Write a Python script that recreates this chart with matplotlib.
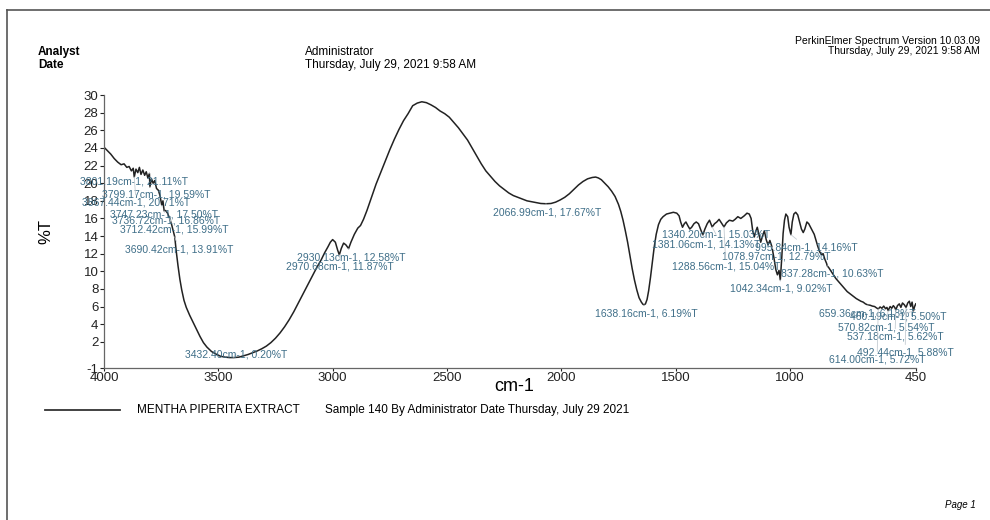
import matplotlib
matplotlib.use("Agg")
import matplotlib.pyplot as plt
from matplotlib.lines import Line2D

plt.rcParams['font.family'] = ['Liberation Sans', 'DejaVu Sans']
plt.rcParams['axes.unicode_minus'] = False

# FT-IR transmittance spectrum, read point by point (wavenumber, %T)
wavenumber = [
    4000, 3985, 3970, 3955, 3940, 3925, 3912, 3900, 3890, 3880, 3872, 3867.44,
    3860, 3852, 3845, 3838, 3830, 3822, 3815, 3808, 3801.19, 3799.17, 3792,
    3785, 3778, 3770, 3762, 3755, 3747.23, 3742, 3736.72, 3730, 3722, 3712.42,
    3705, 3697, 3690.42, 3684, 3676, 3668, 3660, 3650, 3640, 3625, 3610, 3595,
    3580, 3565, 3550, 3530, 3510, 3490, 3470, 3450, 3432.40, 3410, 3390, 3370,
    3350, 3330, 3310, 3290, 3270, 3250, 3230, 3210, 3190, 3170, 3150, 3130,
    3110, 3090, 3070, 3050, 3035, 3020, 3010, 3000, 2988, 2978, 2970.68, 2962,
    2952, 2942, 2930.13, 2920, 2905, 2890, 2878, 2865, 2850, 2830, 2810, 2790,
    2770, 2750, 2730, 2710, 2690, 2670, 2650, 2630, 2610, 2590, 2570, 2550,
    2530, 2510, 2490, 2470, 2450, 2430, 2410, 2390, 2370, 2350, 2330, 2310,
    2290, 2270, 2250, 2230, 2210, 2190, 2170, 2150, 2130, 2110, 2090, 2066.99,
    2045, 2025, 2005, 1985, 1965, 1945, 1925, 1905, 1885, 1865, 1850, 1838,
    1825, 1810, 1795, 1780, 1765, 1750, 1740, 1730, 1720, 1710, 1700, 1690,
    1680, 1670, 1660, 1650, 1643, 1638.16, 1632, 1625, 1618, 1610, 1602, 1594,
    1585, 1575, 1565, 1555, 1540, 1525, 1510, 1495, 1485, 1478, 1470, 1462,
    1455, 1447, 1438, 1430, 1420, 1410, 1400, 1390, 1381.06, 1372, 1362, 1352,
    1340.20, 1330, 1320, 1310, 1300, 1288.56, 1278, 1265, 1250, 1240, 1228,
    1215, 1200, 1188, 1178, 1170, 1163, 1156, 1150, 1143, 1136, 1128, 1120,
    1112, 1104, 1096, 1088, 1078.97, 1070, 1062, 1055, 1048, 1042.34, 1036,
    1030, 1024, 1018, 1010, 1004, 995.84, 990, 983, 975, 966, 958, 950, 942,
    935, 926, 918, 910, 902, 894, 886, 878, 870, 862, 855, 848, 840, 837.28,
    830, 820, 810, 800, 790, 780, 770, 760, 750, 740, 730, 720, 710, 700, 690,
    680, 670, 659.36, 650, 640, 630, 622, 614.00, 606, 598, 590, 582, 576,
    570.82, 562, 555, 548, 542, 537.18, 530, 522, 515, 508, 500, 492.44, 485,
    478, 472, 466, 460.19, 455, 450,
]
transmittance = [
    24.1, 23.7, 23.3, 22.8, 22.4, 22.1, 22.2, 21.8, 21.9, 21.4, 21.7, 20.71,
    21.6, 21.2, 21.8, 21.0, 21.5, 20.9, 21.3, 20.6, 21.11, 19.59, 20.5,
    20.0, 20.3, 19.4, 19.2, 18.6, 17.50, 18.0, 16.86, 16.9, 16.6, 15.99,
    15.4, 14.6, 13.91, 12.3, 10.6, 9.1, 7.9, 6.7, 5.9, 5.0, 4.2, 3.4,
    2.6, 1.9, 1.4, 0.9, 0.6, 0.35, 0.25, 0.2, 0.20, 0.25, 0.4, 0.55,
    0.75, 0.95, 1.2, 1.5, 1.9, 2.4, 3.0, 3.7, 4.5, 5.4, 6.4, 7.4,
    8.4, 9.4, 10.4, 11.3, 12.1, 12.8, 13.3, 13.6, 13.3, 12.4, 11.87, 12.6,
    13.2, 13.0, 12.58, 13.3, 14.2, 14.9, 15.2, 15.9, 16.9, 18.4, 19.9, 21.2,
    22.5, 23.8, 25.0, 26.1, 27.1, 27.9, 28.8, 29.1, 29.25, 29.15, 28.9, 28.6,
    28.2, 27.9, 27.5, 26.9, 26.3, 25.6, 24.9, 24.0, 23.1, 22.2, 21.4, 20.8,
    20.2, 19.7, 19.3, 18.9, 18.6, 18.4, 18.2, 18.0, 17.9, 17.8, 17.7, 17.67,
    17.7, 17.85, 18.1, 18.4, 18.8, 19.3, 19.8, 20.2, 20.5, 20.65, 20.7, 20.6,
    20.4, 20.0, 19.6, 19.1, 18.5, 17.6, 16.8, 15.8, 14.6, 13.3, 11.8, 10.3,
    9.0, 7.9, 7.0, 6.5, 6.25, 6.19, 6.3, 6.8, 7.8, 9.3, 11.0, 12.7,
    14.2, 15.3, 15.9, 16.2, 16.5, 16.6, 16.7, 16.6, 16.3, 15.6, 15.0, 15.4,
    15.6, 15.2, 14.8, 15.0, 15.4, 15.6, 15.4, 14.7, 14.13, 14.8, 15.4, 15.8,
    15.03, 15.4, 15.6, 15.9, 15.5, 15.04, 15.5, 15.8, 15.7, 15.9, 16.2,
    16.0, 16.3, 16.6, 16.5, 16.0, 14.6, 13.9, 14.5, 15.0, 14.2, 13.3, 14.0,
    14.6, 13.6, 13.0, 13.5, 12.79, 11.5, 10.2, 9.6, 10.1, 9.02, 11.5,
    14.3, 15.8, 16.5, 16.2, 15.0, 14.16, 15.6, 16.5, 16.7, 16.4, 15.6, 14.8, 14.4,
    14.8, 15.6, 15.4, 15.0, 14.6, 14.2, 13.5, 12.8, 12.2, 11.9, 12.0, 11.4, 10.9, 10.63,
    10.4, 10.0, 9.6, 9.2, 8.9, 8.6, 8.3, 8.0, 7.7, 7.5, 7.3, 7.1, 6.9, 6.75, 6.6,
    6.5, 6.3, 6.18, 6.15, 6.05, 6.0, 5.85, 5.72, 5.95, 5.8, 6.05, 5.75, 5.9,
    5.54, 6.0, 5.8, 6.1, 5.9, 5.62, 6.1, 6.3, 5.9, 6.4, 6.2, 5.88, 6.4,
    6.6, 6.0, 6.5, 5.50, 6.0, 6.3,
]

# peak table printed by the software
peak_wn = [3801.19, 3799.17, 3867.44, 3747.23, 3736.72, 3712.42, 3690.42,
           3432.40, 2930.13, 2970.68, 2066.99, 1638.16, 1340.20, 1381.06,
           995.84, 1078.97, 1288.56, 837.28, 1042.34, 659.36, 460.19,
           570.82, 537.18, 492.44, 614.00]
peak_t = [21.11, 19.59, 20.71, 17.50, 16.86, 15.99, 13.91,
          0.20, 12.58, 11.87, 17.67, 6.19, 15.03, 14.13,
          14.16, 12.79, 15.04, 10.63, 9.02, 6.18, 5.50,
          5.54, 5.62, 5.88, 5.72]
# where each peak label sits (wavenumber, %T)
label_pos = [(4105, 20.2), (4009, 18.7), (4096, 17.8), (3974, 16.4),
             (3965, 15.8), (3930, 14.7), (3908, 12.5), (3646, 0.6),
             (3156, 11.6), (3204, 10.6), (2299, 16.7), (1853, 5.2),
             (1560, 14.2), (1604, 13.0), (1154, 12.75), (1298, 11.7),
             (1517, 10.5), (1040, 9.7), (1263, 8.0), (874, 5.2),
             (738, 4.9), (791, 3.6), (752, 2.6), (708, 0.8), (830, 0.0)]

fig = plt.figure(figsize=(9.9, 5.2), dpi=100)
ax = fig.add_axes([0.105, 0.292, 0.820, 0.525])

ax.plot(wavenumber, transmittance, color='#222222', lw=1.1)

for w, t, (lx, ly) in zip(peak_wn, peak_t, label_pos):
    ax.annotate('%.2fcm-1, %.2f%%T' % (w, t), xy=(w, t), xytext=(lx, ly),
                ha='left', va='center', fontsize=7.5, color='#3e6e88',
                annotation_clip=False,
                arrowprops=dict(arrowstyle='-', color='#c5ccd2', lw=0.6,
                                shrinkA=0, shrinkB=0))

ax.set_xlim(4000, 450)
ax.set_ylim(-1, 30)
ax.set_xticks([4000, 3500, 3000, 2500, 2000, 1500, 1000, 450])
ax.set_yticks([-1] + list(range(2, 31, 2)))
ax.tick_params(axis='both', direction='out', length=3, width=0.8,
               labelsize=9.5, colors='#222222')
ax.tick_params(axis='y', pad=1)
ax.tick_params(axis='x', length=2, pad=0.5)
for side in ['top', 'right']:
    ax.spines[side].set_visible(False)
for side in ['left', 'bottom']:
    ax.spines[side].set_color('#666666')
    ax.spines[side].set_linewidth(0.9)

ax.set_xlabel('cm-1', fontsize=13)
ax.set_ylabel('%T', fontsize=12, labelpad=22)
ax.xaxis.set_label_coords(0.505, -0.035)

# page header
fig.text(38 / 990, 1 - 52 / 520, 'Analyst', fontsize=8.5, weight='bold', va='center')
fig.text(38 / 990, 1 - 65 / 520, 'Date', fontsize=8.5, weight='bold', va='center')
fig.text(305 / 990, 1 - 52 / 520, 'Administrator', fontsize=8.5, va='center')
fig.text(305 / 990, 1 - 65 / 520, 'Thursday, July 29, 2021 9:58 AM', fontsize=8.5, va='center')
fig.text(980 / 990, 1 - 41 / 520, 'PerkinElmer Spectrum Version 10.03.09',
         fontsize=7.5, ha='right', va='center')
fig.text(980 / 990, 1 - 51.5 / 520, 'Thursday, July 29, 2021 9:58 AM',
         fontsize=7.5, ha='right', va='center')

# legend row under the plot
fig.add_artist(Line2D([45 / 990, 120 / 990], [1 - 410 / 520, 1 - 410 / 520],
                      color='#333333', lw=1.3))
fig.text(137 / 990, 1 - 410 / 520, 'MENTHA PIPERITA EXTRACT', fontsize=8.5, va='center')
fig.text(325 / 990, 1 - 410 / 520,
         'Sample 140 By Administrator Date Thursday, July 29 2021',
         fontsize=8.5, va='center')
fig.text(960 / 990, 1 - 505 / 520, 'Page 1', fontsize=7, style='italic',
         ha='center', va='center')

# page frame
fig.add_artist(Line2D([7 / 990, 7 / 990], [0, 1 - 10 / 520], color='#555555', lw=1.2))
fig.add_artist(Line2D([7 / 990, 1], [1 - 10 / 520, 1 - 10 / 520], color='#555555', lw=1.2))

fig.savefig('out.png', dpi=100)
